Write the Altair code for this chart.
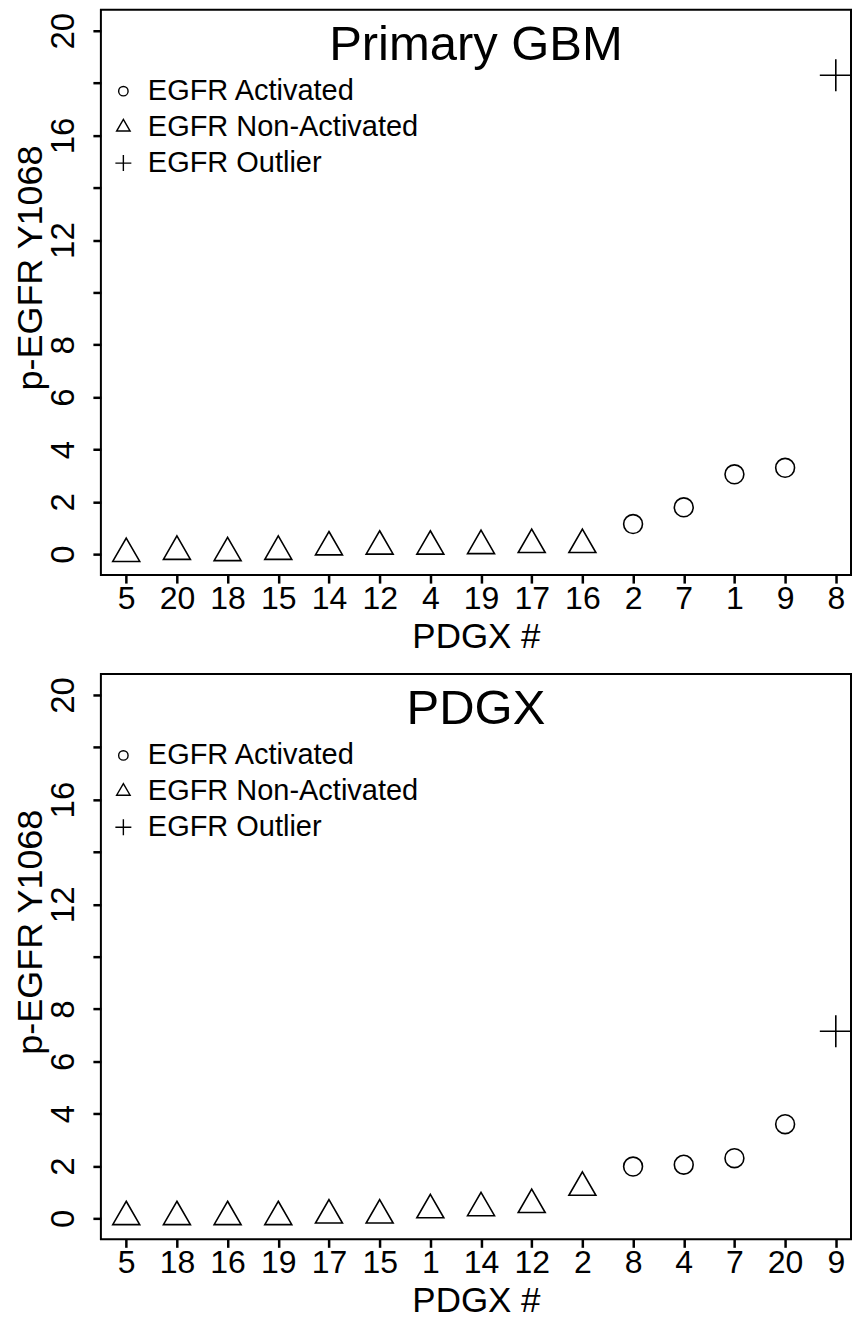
import altair as alt
import pandas as pd

FONT = "Liberation Sans"

# ---- Data: top panel (Primary GBM) ----
gbm_ids = ["5", "20", "18", "15", "14", "12", "4", "19", "17", "16", "2", "7", "1", "9", "8"]
gbm_values = [0.02, 0.10, 0.05, 0.10, 0.27, 0.30, 0.30, 0.32, 0.36, 0.36, 1.15, 1.79, 3.05, 3.30, 18.3]
gbm_groups = ["EGFR Non-Activated", "EGFR Non-Activated", "EGFR Non-Activated", "EGFR Non-Activated",
              "EGFR Non-Activated", "EGFR Non-Activated", "EGFR Non-Activated", "EGFR Non-Activated",
              "EGFR Non-Activated", "EGFR Non-Activated", "EGFR Activated", "EGFR Activated",
              "EGFR Activated", "EGFR Activated", "EGFR Outlier"]

# ---- Data: bottom panel (PDGX) ----
pdgx_ids = ["5", "18", "16", "19", "17", "15", "1", "14", "12", "2", "8", "4", "7", "20", "9"]
pdgx_values = [0.06, 0.06, 0.06, 0.06, 0.12, 0.12, 0.32, 0.40, 0.52, 1.18, 1.98, 2.05, 2.30, 3.60, 7.15]
pdgx_groups = ["EGFR Non-Activated", "EGFR Non-Activated", "EGFR Non-Activated", "EGFR Non-Activated",
               "EGFR Non-Activated", "EGFR Non-Activated", "EGFR Non-Activated", "EGFR Non-Activated",
               "EGFR Non-Activated", "EGFR Non-Activated", "EGFR Activated", "EGFR Activated",
               "EGFR Activated", "EGFR Activated", "EGFR Outlier"]

group_order = ["EGFR Activated", "EGFR Non-Activated", "EGFR Outlier"]
shape_paths = [
    "M-0.59,0A0.59,0.59 0 1,0 0.59,0A0.59,0.59 0 1,0 -0.59,0Z",
    "M0,-0.975L0.844,0.488L-0.844,0.488Z",
    "M-1,0L1,0M0,-1L0,1",
]

y_tick_values = [0, 2, 4, 6, 8, 10, 12, 14, 16, 18, 20]
y_tick_labeled = [0, 2, 4, 6, 8, 12, 16, 20]

PW, PH = 751, 566


def panel(ids, values, groups, title):
    df = pd.DataFrame({"id": ids, "value": values, "group": groups})
    pts = alt.Chart(df).mark_point(
        filled=False, size=1024, strokeWidth=1.6, color="black", opacity=1
    ).encode(
        x=alt.X(
            "id:O",
            sort=ids,
            scale=alt.Scale(padding=0.4, align=0.625),
            axis=alt.Axis(
                title="PDGX #", labelAngle=0, labelFontSize=32, labelFont=FONT,
                labelColor="black", labelPadding=0, tickSize=8, tickWidth=2.5,
                tickColor="black", domain=False, grid=False,
                titleFontSize=35, titleFont=FONT, titleFontWeight="normal",
                titleColor="black", titleY=72, titleBaseline="alphabetic",
            ),
        ),
        y=alt.Y(
            "value:Q",
            scale=alt.Scale(domain=[-0.8, 20.8], nice=False, zero=False),
            axis=alt.Axis(
                values=y_tick_values,
                labelExpr=f"indexof({y_tick_labeled}, datum.value) >= 0 ? datum.label : ''",
                labelAngle=270, labelAlign="center", labelBaseline="middle",
                labelPadding=29, labelFontSize=33, labelFont=FONT, labelColor="black",
                labelOverlap=False, tickSize=8, tickWidth=2.5, tickColor="black",
                domain=False, grid=False,
                title="p-EGFR Y1068", titleAngle=270, titleX=-70, titleY=258,
                titleAlign="center", titleBaseline="middle", titleFontSize=36,
                titleFont=FONT, titleFontWeight="normal", titleColor="black",
            ),
        ),
        shape=alt.Shape(
            "group:N",
            scale=alt.Scale(domain=group_order, range=shape_paths),
            legend=alt.Legend(
                title=None, orient="none", legendX=8, legendY=67,
                labelFontSize=29, labelFont=FONT, labelColor="black", labelLimit=500,
                symbolSize=256, symbolStrokeWidth=1.4, symbolStrokeColor="black",
                symbolFillColor="transparent", rowPadding=6, labelOffset=10,
                padding=0,
            ),
        ),
    )
    ttl = alt.Chart(pd.DataFrame({"t": [title]})).mark_text(
        fontSize=49, font=FONT, color="black", align="center", baseline="alphabetic"
    ).encode(text="t:N", x=alt.value(PW / 2), y=alt.value(50))
    return alt.layer(pts, ttl).properties(width=PW, height=PH)


top = panel(gbm_ids, gbm_values, gbm_groups, "Primary GBM")
bottom = panel(pdgx_ids, pdgx_values, pdgx_groups, "PDGX")

chart = alt.vconcat(top, bottom, spacing=99, bounds="flush").resolve_scale(
    x="independent", y="independent", shape="independent"
).properties(
    padding={"left": 4, "top": 0, "right": 0, "bottom": 0}
).configure(background="white").configure_view(stroke="black", strokeWidth=2)

chart.save("out.html", embed_options={"renderer": "svg", "actions": False})
